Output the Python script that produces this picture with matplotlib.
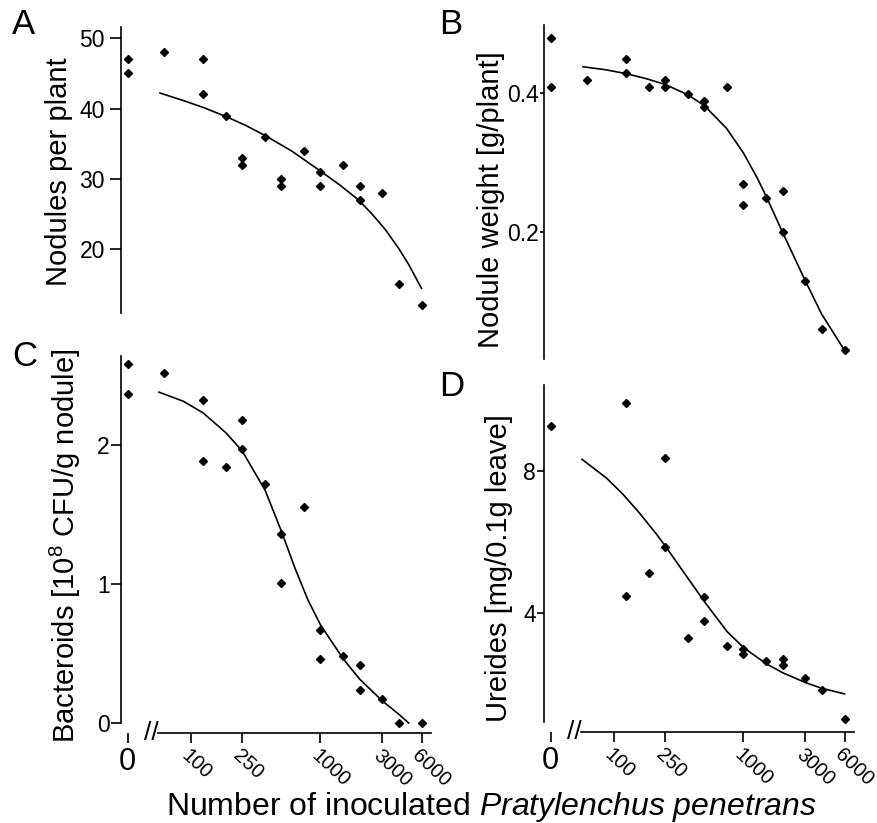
import numpy as np
import matplotlib.pyplot as plt
from matplotlib.ticker import NullLocator

plt.rcParams['font.family'] = ['Liberation Sans', 'DejaVu Sans']
plt.rcParams['mathtext.fontset'] = 'custom'
plt.rcParams['mathtext.rm'] = 'Liberation Sans'
plt.rcParams['mathtext.it'] = 'Liberation Sans:italic'

# tick positions of the log part of the dose axis
x_ticks = [100, 250, 1000, 3000, 6000]

# A - nodules per plant
a_zero = [47, 45]
a_dose = [62.5, 125, 125, 187.5, 250, 250, 375, 500, 500, 750, 1000, 1000, 1500, 2000, 2000, 3000, 4000, 6000]
a_val = [48, 47, 42, 39, 33, 32, 36, 30, 29, 34, 31, 29, 32, 29, 27, 28, 15, 12]
a_fit_dose = [58, 89, 127, 190, 265, 375, 600, 990, 1400, 1960, 2490, 3150, 4000, 4780, 6000]
a_fit = [42.2, 41.1, 40.1, 38.8, 37.6, 36.15, 33.95, 31.15, 29.15, 27.0, 25.0, 22.8, 20.1, 17.8, 14.4]

# B - nodule weight
b_zero = [0.479, 0.409]
b_dose = [62.5, 125, 125, 187.5, 250, 250, 375, 500, 500, 750, 1000, 1000, 1500, 2000, 2000, 3000, 4000, 6000]
b_val = [0.419, 0.449, 0.429, 0.409, 0.419, 0.409, 0.399, 0.389, 0.380, 0.409,
         0.270, 0.240, 0.250, 0.260, 0.200, 0.130, 0.061, 0.031]
b_fit_dose = [58, 88, 125, 177, 250, 375, 500, 740, 1000, 1285, 1520, 2000, 3000, 4000, 6000]
b_fit = [0.438, 0.4335, 0.428, 0.421, 0.4125, 0.3975, 0.382, 0.3495, 0.314, 0.277, 0.249,
         0.200, 0.130, 0.0825, 0.0305]

# C - bacteroids
c_zero = [2.58, 2.37]
c_dose = [62.5, 125, 125, 187.5, 250, 250, 375, 500, 500, 750, 1000, 1000, 1500, 2000, 2000, 3000, 4000, 6000]
c_val = [2.52, 2.32, 1.885, 1.84, 2.18, 1.97, 1.72, 1.36, 1.01, 1.555,
         0.67, 0.46, 0.48, 0.415, 0.24, 0.17, 0.0, 0.0]
c_fit_dose = [57, 88, 125, 187.5, 250, 375, 500, 630, 800, 1000, 1500, 2000, 3000, 4000, 4780]
c_fit = [2.38, 2.314, 2.23, 2.086, 1.955, 1.673, 1.379, 1.124, 0.885, 0.706, 0.46, 0.316, 0.158, 0.064, 0.0]

# D - ureides
d_zero = [9.28]
d_dose = [125, 125, 187.5, 250, 250, 375, 500, 500, 750, 1000, 1000, 1500, 2000, 2000, 3000, 4000, 6000]
d_val = [9.92, 4.46, 5.12, 8.36, 5.86, 3.28, 4.43, 3.76, 3.05, 2.96, 2.84, 2.62, 2.70, 2.51, 2.16, 1.80, 1.0]
d_fit_dose = [57, 88, 118, 159, 213, 252, 343, 504, 748, 1000, 1500, 2000, 3000, 4000, 6000]
d_fit = [8.33, 7.80, 7.34, 6.80, 6.22, 5.86, 5.16, 4.29, 3.46, 3.01, 2.55, 2.30, 2.02, 1.86, 1.70]

W, H = 877, 823
fig = plt.figure(figsize=(W / 100, H / 100), dpi=100)


def box(left, top, right, bottom):
    return [left / W, 1 - bottom / H, (right - left) / W, (bottom - top) / H]


def panel(left, top, bottom, zero, dose, val, fit_dose, fit, ylim, yticks, ylabel, label_xy,
          x_axis, tick_len, tick_pad):
    # narrow axes for the uninoculated control, log axes for the rest
    ax0 = fig.add_axes(box(left, top, left + 13, bottom))
    ax1 = fig.add_axes(box(left + 37, top, left + 310, bottom), sharey=ax0)

    ax0.plot([0] * len(zero), zero, 'kD', ms=3.6, clip_on=False)
    ax1.plot(dose, val, 'kD', ms=3.6, clip_on=False)
    ax1.plot(fit_dose, fit, 'k-', lw=1.2, clip_on=False, solid_joinstyle='round')

    ax0.set_xlim(-1, 1)
    ax1.set_xscale('log')
    ax1.set_xlim(56, 7100)
    ax0.set_ylim(*ylim)
    ax0.set_yticks(yticks)

    for s in ['top', 'right', 'bottom']:
        ax0.spines[s].set_visible(False)
    for s in ['top', 'right', 'left']:
        ax1.spines[s].set_visible(False)
    ax0.spines['left'].set_linewidth(1.2)
    ax0.tick_params(axis='y', direction='out', length=tick_len, width=1.2, pad=tick_pad, labelsize=16.5)
    ax1.tick_params(axis='y', left=False, labelleft=False)
    ax1.xaxis.set_minor_locator(NullLocator())

    ax0.set_ylabel(ylabel, fontsize=21)
    ax0.yaxis.set_label_coords(label_xy[0] / W, 1 - label_xy[1] / H, transform=fig.transFigure)

    if x_axis:
        ax0.spines['bottom'].set_position(('outward', 7))
        ax1.spines['bottom'].set_position(('outward', 7))
        ax1.spines['bottom'].set_linewidth(1.2)
        ax0.set_xticks([0])
        ax0.set_xticklabels(['0'])
        ax0.tick_params(axis='x', direction='out', length=7, width=1.2, labelsize=22)
        ax1.set_xticks(x_ticks)
        ax1.set_xticklabels([str(t) for t in x_ticks])
        ax1.tick_params(axis='x', direction='out', length=7, width=1.2, pad=2.5, labelsize=14.5)
        for lab in ax1.get_xticklabels():
            lab.set_rotation(-43)
            lab.set_ha('left')
            lab.set_va('top')
            lab.set_rotation_mode('anchor')
        ax1.annotate('//', xy=(0, 0), xycoords='axes fraction', xytext=(-4.5, -7),
                     textcoords='offset points', ha='center', va='center', fontsize=19)
    else:
        ax0.set_xticks([])
        ax1.set_xticks([])
        ax1.spines['bottom'].set_visible(False)
    return ax0, ax1


panel(121, 27, 313, a_zero, a_dose, a_val, a_fit_dose, a_fit, (10.9, 51.6), [20, 30, 40, 50],
      'Nodules per plant', (73, 172), False, 8, 3.5)
panel(544, 25, 359, b_zero, b_dose, b_val, b_fit_dose, b_fit, (0.018, 0.498), [0.2, 0.4],
      'Nodule weight [g/plant]', (505, 200), False, 3, 1)
panel(121, 356, 723, c_zero, c_dose, c_val, c_fit_dose, c_fit, (0, 2.64), [0, 1, 2],
      r'Bacteroids [10$^8$ CFU/g nodule]', (83, 546), True, 7, 1)
panel(544, 385, 722, d_zero, d_dose, d_val, d_fit_dose, d_fit, (0.906, 10.43), [4, 8],
      'Ureides [mg/0.1g leave]', (513, 568), True, 5, 1)

for letter, x, y in [('A', 12, 8), ('B', 439, 8), ('C', 12, 340), ('D', 439, 370)]:
    fig.text(x / W, 1 - y / H, letter, fontsize=25, va='top', ha='left')

fig.text(491 / W, 1 - 815 / H, r'Number of inoculated $\it{Pratylenchus\ penetrans}$',
         fontsize=23, ha='center', va='baseline')

fig.savefig('out.png', dpi=100)
